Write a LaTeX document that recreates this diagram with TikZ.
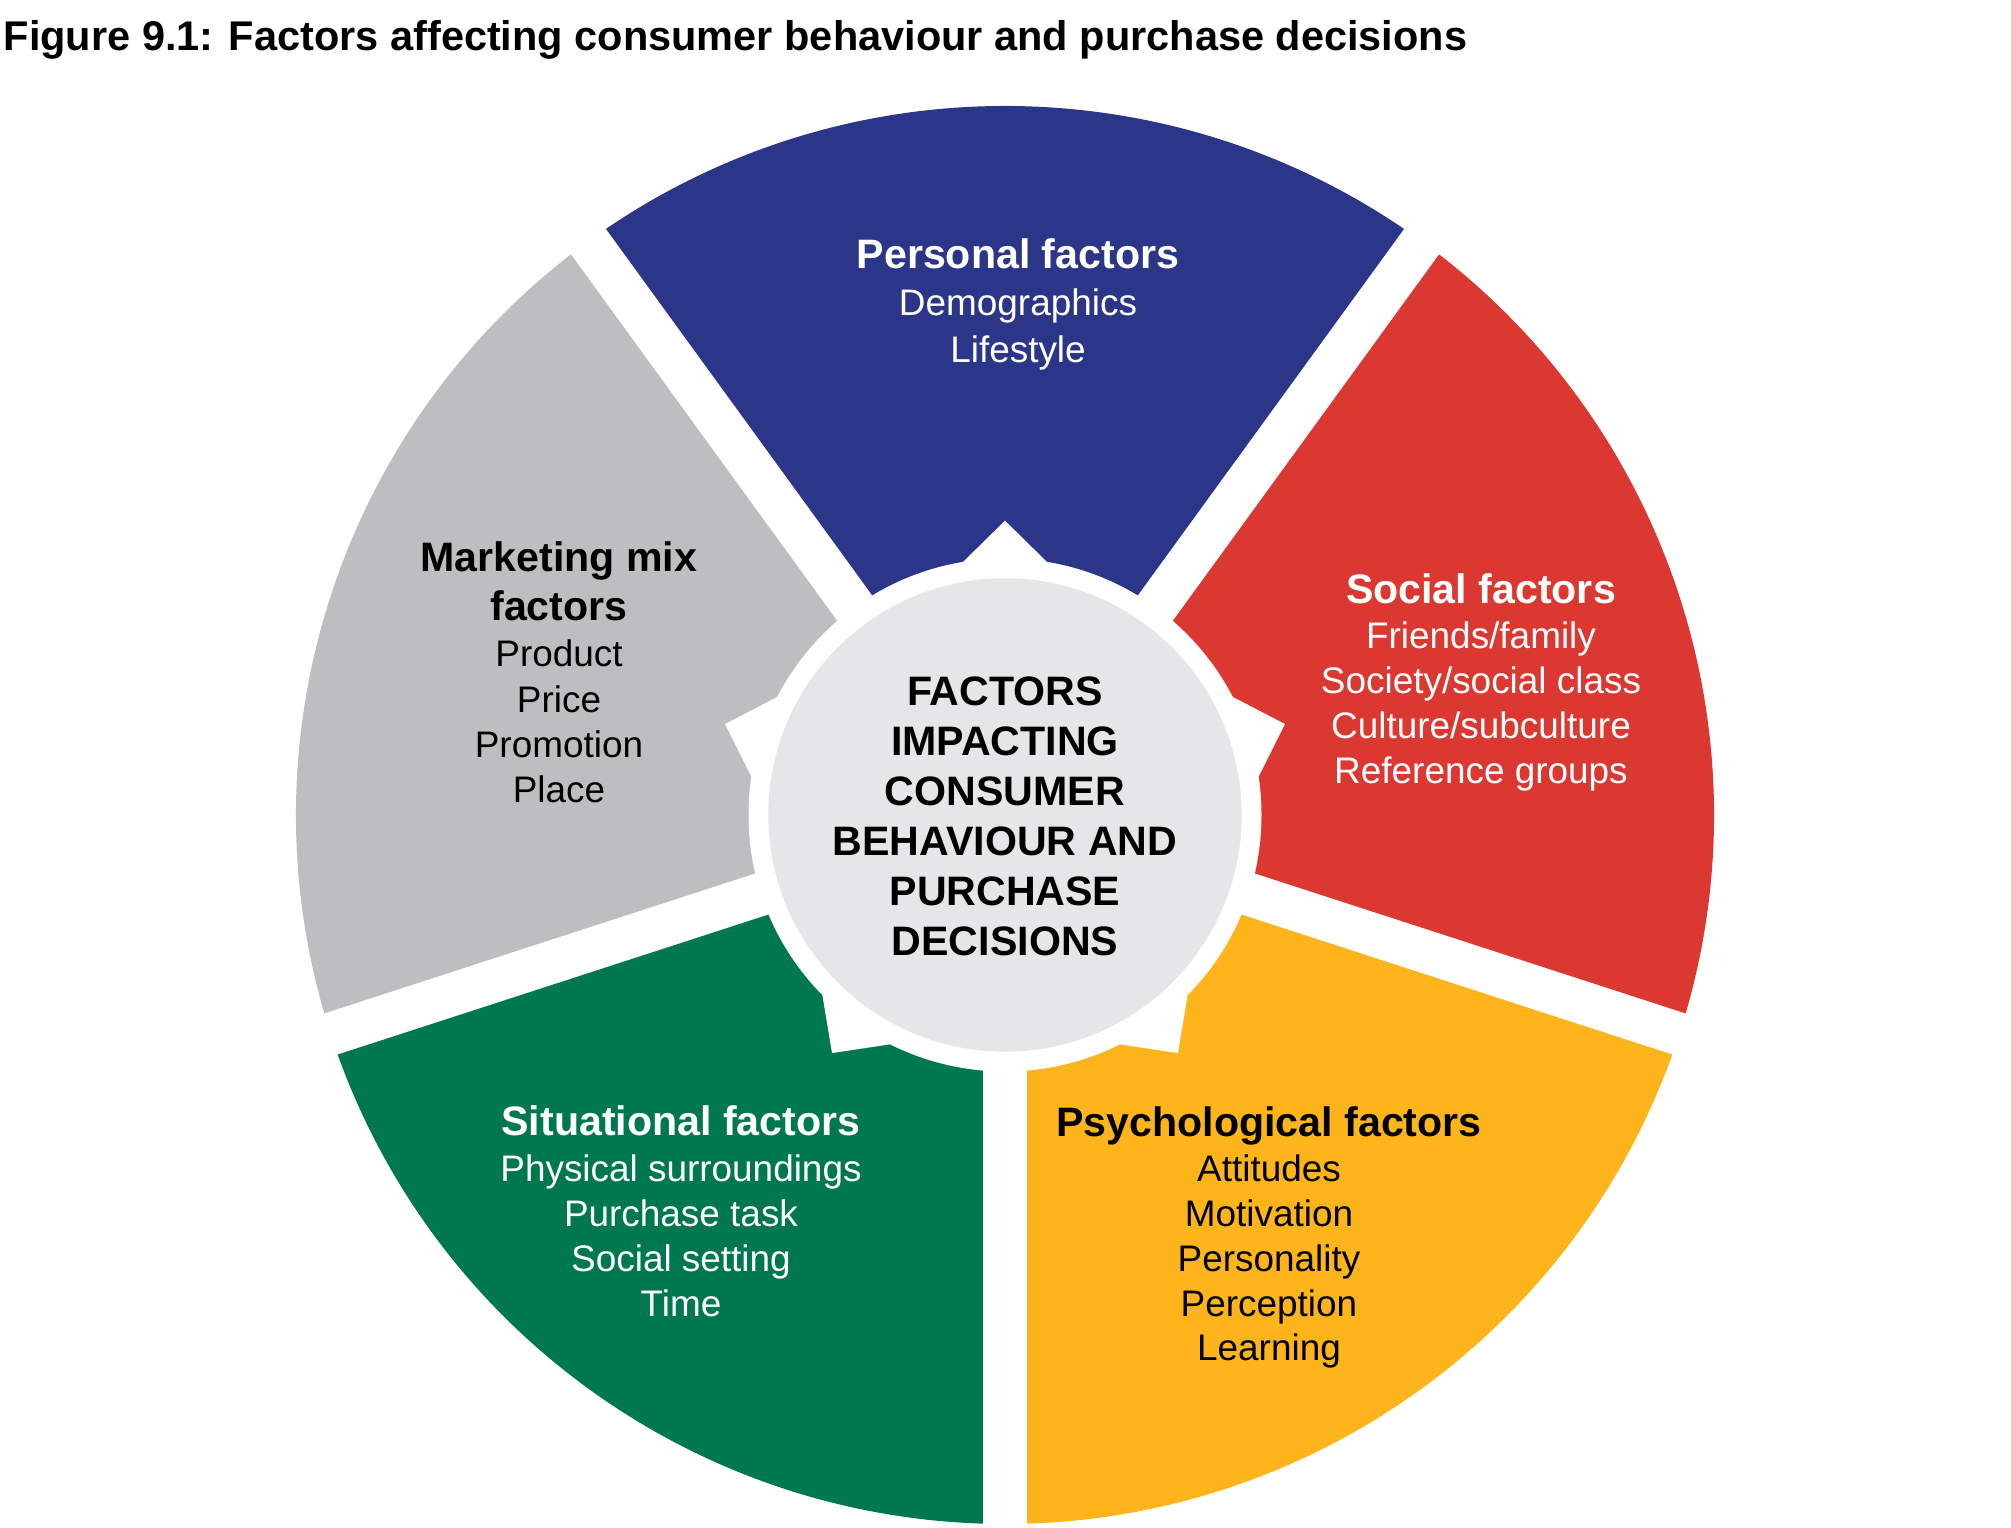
\documentclass[tikz,border=0pt]{standalone}
\usepackage{fontspec}
\setmainfont{Liberation Sans}
\definecolor{perblue}{HTML}{2B3689}
\definecolor{socred}{HTML}{DC3832}
\definecolor{psyyel}{HTML}{FDB51B}
\definecolor{sitgreen}{HTML}{00784F}
\definecolor{mktgray}{HTML}{BDBEC0}
\definecolor{hubgray}{HTML}{E5E6E7}
\begin{document}
\begin{tikzpicture}[x=0.01cm,y=0.01cm,
  hd/.style={anchor=base, font=\fontsize{11.7}{14}\selectfont\bfseries, inner sep=0pt},
  it/.style={anchor=base, font=\fontsize{10.5}{12.6}\selectfont, inner sep=0pt},
  gapline/.style={white, line width=0.43cm},
]
\fill[white] (0,0) rectangle (2011,1528);
\useasboundingbox (0,0) rectangle (2011,1528);
\begin{scope}[shift={(1005,713)}]
  \coordinate (C) at (0,0);
  \foreach \c/\col in {90/perblue,18/socred,-54/psyyel,-126/sitgreen,162/mktgray}{
    \fill[\col] (C) -- (\c-36:709) arc[start angle=\c-36, end angle=\c+36, radius=709] -- cycle;
  }
  \foreach \g in {54,126,198,270,342}{ \draw[gapline] (C) -- (\g:740); }
  \fill[white] (C) circle (256.5);
  \foreach \c in {90,18,-54,-126,162}{
    \fill[white] (\c-9.4:256.5) -- (\c:294.3) -- (\c+9.4:256.5) -- (\c:200) -- cycle;
  }
  \fill[hubgray] (C) circle (236.7);
\end{scope}

% title
\node[anchor=base west, inner sep=0pt, font=\fontsize{11.8}{14}\selectfont\bfseries] (title) at (3,1477)
  {Figure 9.1: Factors affecting consumer behaviour and purchase decisions};

% personal
\node[hd, white] (perh) at (1018,1259) {Personal factors};
\foreach \t [count=\i] in {Demographics,Lifestyle}
  \node[it, white] (per\i) at (1018,{1212-47*(\i-1)}) {\t};

% social
\node[hd, white] (soch) at (1481,924) {Social factors};
\foreach \t [count=\i] in {Friends/family,Society/social class,Culture/subculture,Reference groups}
  \node[it, white] (soc\i) at (1481,{879-45*(\i-1)}) {\t};

% marketing mix
\node[hd] (mkth1) at (559,956) {Marketing mix};
\node[hd] (mkth2) at (559,907) {factors};
\foreach \t [count=\i] in {Product,Price,Promotion,Place}
  \node[it] (mkt\i) at (559,{861-45.3*(\i-1)}) {\t};

% situational
\node[hd, white] (sith) at (681,392) {Situational factors};
\foreach \t [count=\i] in {Physical surroundings,Purchase task,Social setting,Time}
  \node[it, white] (sit\i) at (681,{346-44.7*(\i-1)}) {\t};

% psychological
\node[hd] (psyh) at (1269,391) {Psychological factors};
\foreach \t [count=\i] in {Attitudes,Motivation,Personality,Perception,Learning}
  \node[it] (psy\i) at (1269,{346-44.75*(\i-1)}) {\t};

% hub
\foreach \t [count=\i] in {FACTORS,IMPACTING,CONSUMER,BEHAVIOUR AND,PURCHASE,DECISIONS}
  \node[hd] (hub\i) at (1005,{822-50*(\i-1)}) {\t};
\end{tikzpicture}
\end{document}
